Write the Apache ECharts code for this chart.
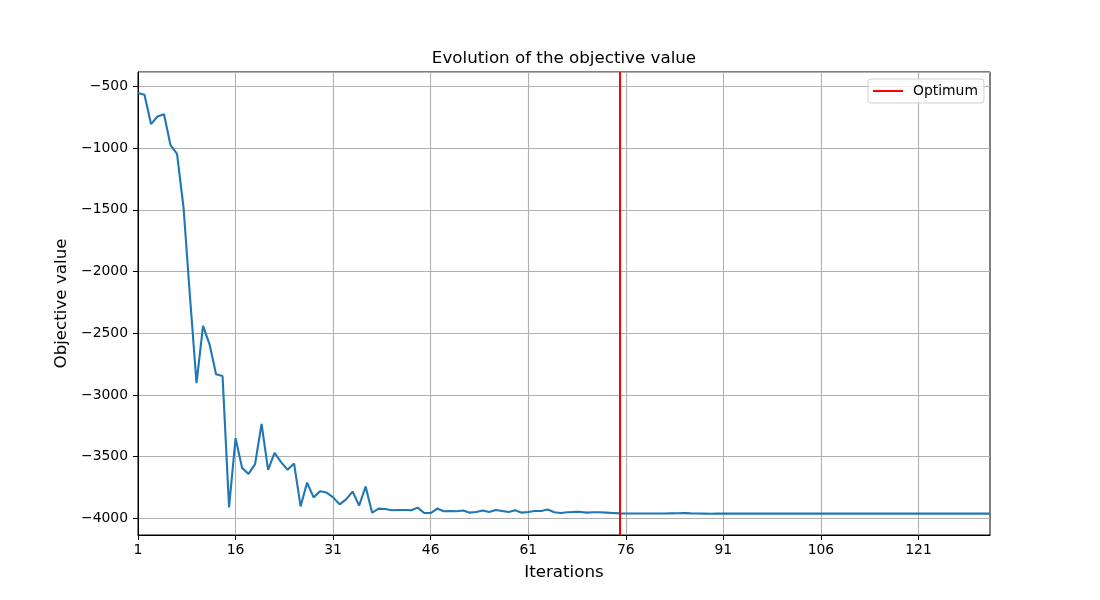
<!DOCTYPE html>
<html>
<head>
<meta charset="utf-8">
<script src="https://cdn.jsdelivr.net/npm/echarts@6/dist/echarts.min.js"></script>
<style>
html,body{margin:0;padding:0;background:#fff;}
#chart{width:1100px;height:600px;}
</style>
</head>
<body>
<div id="chart"></div>
<script>
// Iterations 1..132 (category labels)
const iterations = [];
for (let i = 1; i <= 132; i++) iterations.push(String(i));

// Objective value per iteration
const objectiveHead = [
  -553, -567, -805, -744, -725, -976, -1047, -1480, -2210, -2904,
  -2441, -2590, -2833, -2847, -3911, -3350, -3591, -3640, -3561, -3234,
  -3607, -3469, -3545, -3607, -3556, -3903, -3710, -3830, -3781, -3791,
  -3830, -3887, -3846, -3783, -3897, -3743, -3954, -3921, -3924, -3935,
  -3932, -3932, -3935, -3913, -3957, -3957, -3921, -3943, -3940, -3943,
  -3937, -3954, -3948, -3937, -3948, -3932, -3940, -3948, -3935, -3954,
  -3948, -3940, -3940, -3929, -3951, -3957, -3951, -3948, -3948, -3954,
  -3951, -3951, -3954, -3957, -3960
];
const objectiveTail = [
  -3961, -3961, -3961, -3961, -3961, -3961, -3961, -3960, -3959, -3958,
  -3960, -3961, -3962, -3963, -3962, -3962, -3962, -3962, -3962, -3962,
  -3962, -3962, -3962, -3962, -3962, -3962, -3962, -3962, -3962, -3962,
  -3962, -3962, -3962, -3962, -3962, -3962, -3962, -3962, -3962, -3962,
  -3962, -3962, -3962, -3962, -3962, -3962, -3962, -3962, -3962, -3962,
  -3962, -3962, -3962, -3962, -3962, -3962, -3962
];
const objective = objectiveHead.concat(objectiveTail);

const optimumIteration = '75';

const FONT = 'DejaVu Sans';
const chart = echarts.init(document.getElementById('chart'), null, {renderer: 'canvas'});
chart.setOption({
  animation: false,
  backgroundColor: '#fff',
  title: {
    text: 'Evolution of the objective value',
    left: 564,
    textAlign: 'center',
    top: 50,
    padding: 0,
    textStyle: {fontFamily: FONT, fontSize: 16.7, fontWeight: 'normal', color: '#000'}
  },
  legend: {
    data: ['Optimum'],
    left: 868,
    top: 79,
    padding: [5, 6, 5, 5],
    itemWidth: 30,
    itemHeight: 2,
    icon: 'rect',
    backgroundColor: 'rgba(255,255,255,0.8)',
    borderColor: '#d0d0d0',
    borderWidth: 1,
    borderRadius: 3,
    textStyle: {fontFamily: FONT, fontSize: 13.9, color: '#000', padding: [0, 0, 0, 5]}
  },
  grid: {
    left: 138, right: 110, top: 72, bottom: 65,
    show: true, borderColor: '#000', borderWidth: 1, backgroundColor: 'transparent'
  },
  xAxis: {
    type: 'category',
    data: iterations,
    boundaryGap: false,
    name: 'Iterations',
    nameLocation: 'middle',
    nameGap: 29,
    nameTextStyle: {fontFamily: FONT, fontSize: 16.7, color: '#000'},
    axisLine: {lineStyle: {color: '#000', width: 1}},
    axisTick: {show: true, interval: 14, length: 5, lineStyle: {color: '#000'}},
    axisLabel: {interval: 14, margin: 8, fontFamily: FONT, fontSize: 13.9, color: '#000'},
    splitLine: {show: true, interval: 14, lineStyle: {color: '#b0b0b0', width: 1.1}}
  },
  yAxis: {
    type: 'value',
    min: -4135,
    max: -383,
    splitNumber: 8,
    minInterval: 500,
    maxInterval: 500,
    name: 'Objective value',
    nameLocation: 'middle',
    nameGap: 58,
    nameTextStyle: {fontFamily: FONT, fontSize: 16.7, color: '#000'},
    axisLine: {show: true, lineStyle: {color: '#000', width: 1}},
    axisTick: {show: true, length: 5, lineStyle: {color: '#000'}},
    axisLabel: {
      showMinLabel: false, showMaxLabel: false, margin: 10,
      fontFamily: FONT, fontSize: 13.9, color: '#000',
      formatter: v => (v < 0 ? '\u2212' + Math.abs(v) : String(v))
    },
    splitLine: {show: true, lineStyle: {color: '#b0b0b0', width: 1.1}}
  },
  series: [
    {
      name: 'Objective',
      type: 'line',
      data: objective,
      showSymbol: false,
      symbol: 'none',
      lineStyle: {color: '#1f77b4', width: 2.1},
      itemStyle: {color: '#1f77b4'},
      z: 3
    },
    {
      name: 'Optimum',
      type: 'line',
      data: [],
      itemStyle: {color: '#ff0000'},
      lineStyle: {color: '#ff0000', width: 2},
      markLine: {
        silent: true,
        symbol: 'none',
        label: {show: false},
        lineStyle: {color: '#ff0000', width: 2, type: 'solid'},
        data: [{xAxis: optimumIteration}]
      },
      z: 4
    }
  ]
});
</script>
</body>
</html>
